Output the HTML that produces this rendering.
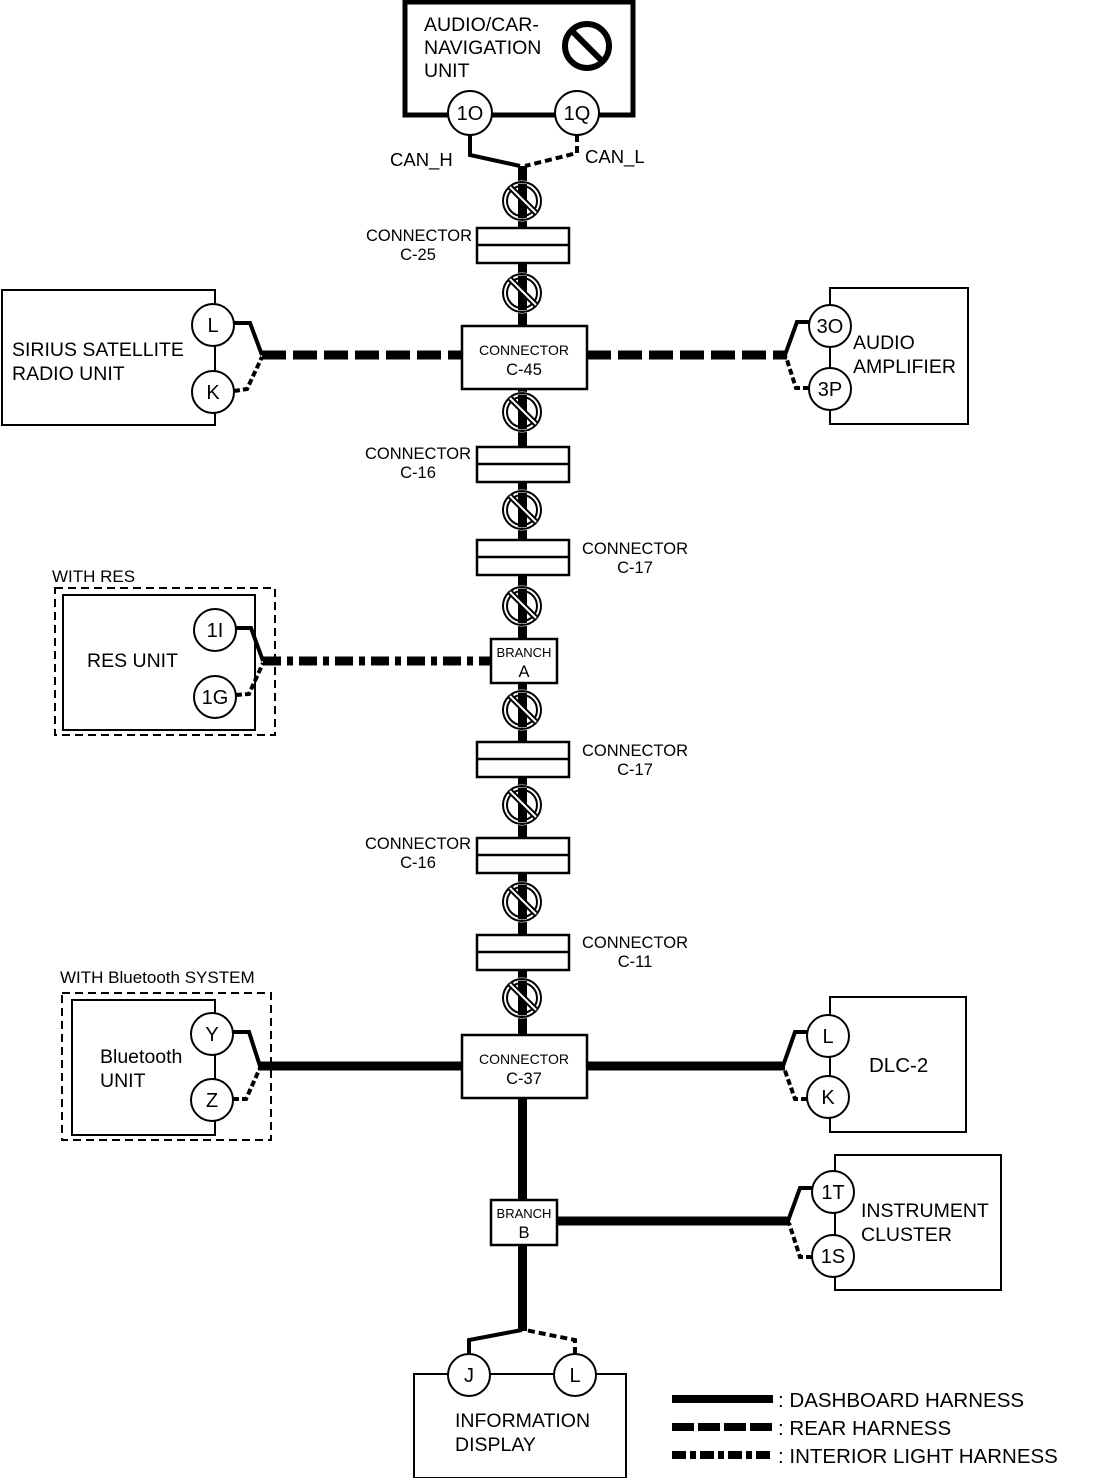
<!DOCTYPE html>
<html><head><meta charset="utf-8"><style>
html,body{margin:0;padding:0;background:#fff}
svg{display:block}
text{font-family:"Liberation Sans",sans-serif;fill:#000}
</style></head><body>
<svg width="1093" height="1478" viewBox="0 0 1093 1478" xmlns="http://www.w3.org/2000/svg">
<defs>
<g id="tw">
<circle cx="0" cy="0" r="19" fill="none" stroke="#fff" stroke-width="3"/>
<circle cx="0" cy="0" r="19" fill="none" stroke="#000" stroke-width="2"/>
<circle cx="0" cy="0" r="15" fill="none" stroke="#000" stroke-width="2"/>
<path d="M-12,-14 L14,12" stroke="#000" stroke-width="6"/>
<path d="M-12,-14 L14,12" stroke="#fff" stroke-width="2"/>
</g>
</defs>
<!-- trunk -->
<rect x="518" y="166" width="9" height="1165" fill="#000"/>
<!-- top unit -->
<rect x="405" y="2" width="228" height="113" fill="#fff" stroke="#000" stroke-width="5"/>
<text x="424" y="31" font-size="19.5">AUDIO/CAR-</text>
<text x="424" y="54" font-size="19.5">NAVIGATION</text>
<text x="424" y="77" font-size="19.5">UNIT</text>
<circle cx="587" cy="46" r="22" fill="none" stroke="#000" stroke-width="6"/>
<path d="M572,31 L602,61" stroke="#000" stroke-width="6"/>
<circle cx="470" cy="113" r="22" fill="#fff" stroke="#000" stroke-width="2"/>
<circle cx="577" cy="113" r="22" fill="#fff" stroke="#000" stroke-width="2"/>
<text x="470" y="120" font-size="20" text-anchor="middle">1O</text>
<text x="577" y="120" font-size="20" text-anchor="middle">1Q</text>
<path d="M470,135 L470,155 L520,166" fill="none" stroke="#000" stroke-width="4"/>
<path d="M577,135 L577,153 L525,166" fill="none" stroke="#000" stroke-width="4" stroke-dasharray="7,4"/>
<text x="390" y="166" font-size="18.5">CAN_H</text>
<text x="585" y="163" font-size="18.5">CAN_L</text>
<!-- twists -->
<use href="#tw" x="522" y="201"/><use href="#tw" x="522" y="293"/><use href="#tw" x="522" y="412"/>
<use href="#tw" x="522" y="510"/><use href="#tw" x="522" y="606"/><use href="#tw" x="522" y="710"/>
<use href="#tw" x="522" y="805"/><use href="#tw" x="522" y="902"/><use href="#tw" x="522" y="998"/>
<!-- connectors -->
<g fill="#fff" stroke="#000" stroke-width="2.5">
<rect x="477" y="228" width="92" height="35"/><line x1="477" y1="245" x2="569" y2="245"/>
<rect x="477" y="447" width="92" height="35"/><line x1="477" y1="464" x2="569" y2="464"/>
<rect x="477" y="540" width="92" height="35"/><line x1="477" y1="557" x2="569" y2="557"/>
<rect x="477" y="742" width="92" height="35"/><line x1="477" y1="759" x2="569" y2="759"/>
<rect x="477" y="838" width="92" height="35"/><line x1="477" y1="855" x2="569" y2="855"/>
<rect x="477" y="935" width="92" height="35"/><line x1="477" y1="952" x2="569" y2="952"/>
<rect x="462" y="326" width="125" height="63"/>
<rect x="462" y="1035" width="125" height="63"/>
<rect x="491" y="639" width="66" height="44"/>
<rect x="491" y="1200" width="66" height="45"/>
</g>
<g font-size="16.5" text-anchor="middle">
<text x="419" y="241">CONNECTOR</text><text x="418" y="260">C-25</text>
<text x="418" y="459">CONNECTOR</text><text x="418" y="478">C-16</text>
<text x="635" y="554">CONNECTOR</text><text x="635" y="573">C-17</text>
<text x="635" y="756">CONNECTOR</text><text x="635" y="775">C-17</text>
<text x="418" y="849">CONNECTOR</text><text x="418" y="868">C-16</text>
<text x="635" y="948">CONNECTOR</text><text x="635" y="967">C-11</text>
<text x="524" y="355" font-size="14">CONNECTOR</text><text x="524" y="375">C-45</text>
<text x="524" y="1064" font-size="14">CONNECTOR</text><text x="524" y="1084">C-37</text>
<text x="524" y="657" font-size="13">BRANCH</text><text x="524" y="677">A</text>
<text x="524" y="1218" font-size="13">BRANCH</text><text x="524" y="1238">B</text>
</g>
<!-- Sirius -->
<rect x="2" y="290" width="213" height="135" fill="#fff" stroke="#000" stroke-width="2"/>
<text x="12" y="356" font-size="19.5">SIRIUS SATELLITE</text>
<text x="12" y="380" font-size="19.5">RADIO UNIT</text>
<circle cx="213" cy="325" r="21" fill="#fff" stroke="#000" stroke-width="2"/>
<circle cx="213" cy="392" r="21" fill="#fff" stroke="#000" stroke-width="2"/>
<text x="213" y="332" font-size="20" text-anchor="middle">L</text>
<text x="213" y="399" font-size="20" text-anchor="middle">K</text>
<path d="M234,323 L250,323 L262,355" fill="none" stroke="#000" stroke-width="4"/>
<path d="M234,391 L247,389 L262,357" fill="none" stroke="#000" stroke-width="4" stroke-dasharray="6,3"/>
<path d="M262,355 L462,355" stroke="#000" stroke-width="9" stroke-dasharray="24,7"/>
<!-- Audio amp -->
<rect x="830" y="288" width="138" height="136" fill="#fff" stroke="#000" stroke-width="2"/>
<text x="853" y="349" font-size="19.5">AUDIO</text>
<text x="853" y="373" font-size="19.5">AMPLIFIER</text>
<circle cx="830" cy="326" r="21" fill="#fff" stroke="#000" stroke-width="2"/>
<circle cx="830" cy="389" r="21" fill="#fff" stroke="#000" stroke-width="2"/>
<text x="830" y="333" font-size="20" text-anchor="middle">3O</text>
<text x="830" y="396" font-size="20" text-anchor="middle">3P</text>
<path d="M809,322 L797,322 L785,355" fill="none" stroke="#000" stroke-width="4"/>
<path d="M809,388 L796,388 L786,357" fill="none" stroke="#000" stroke-width="4" stroke-dasharray="6,3"/>
<path d="M587,355 L787,355" stroke="#000" stroke-width="9" stroke-dasharray="24,7"/>
<!-- RES -->
<text x="52" y="582" font-size="17">WITH RES</text>
<rect x="55" y="588" width="220" height="147" fill="none" stroke="#000" stroke-width="2" stroke-dasharray="8,5"/>
<rect x="63" y="595" width="192" height="135" fill="#fff" stroke="#000" stroke-width="2"/>
<text x="87" y="667" font-size="19.5">RES UNIT</text>
<circle cx="215" cy="630" r="21" fill="#fff" stroke="#000" stroke-width="2"/>
<circle cx="215" cy="697" r="21" fill="#fff" stroke="#000" stroke-width="2"/>
<text x="215" y="637" font-size="20" text-anchor="middle">1I</text>
<text x="215" y="704" font-size="20" text-anchor="middle">1G</text>
<path d="M236,628 L251,628 L263,661" fill="none" stroke="#000" stroke-width="4"/>
<path d="M236,695 L249,694 L263,663" fill="none" stroke="#000" stroke-width="4" stroke-dasharray="6,3"/>
<path d="M263,661 L491,661" stroke="#000" stroke-width="9" stroke-dasharray="18,6,6,6"/>
<!-- Bluetooth -->
<text x="60" y="983" font-size="17">WITH Bluetooth SYSTEM</text>
<rect x="62" y="993" width="209" height="147" fill="none" stroke="#000" stroke-width="2" stroke-dasharray="8,5"/>
<rect x="72" y="1000" width="143" height="135" fill="#fff" stroke="#000" stroke-width="2"/>
<text x="100" y="1063" font-size="19.5">Bluetooth</text>
<text x="100" y="1087" font-size="19.5">UNIT</text>
<circle cx="212" cy="1034" r="21" fill="#fff" stroke="#000" stroke-width="2"/>
<circle cx="212" cy="1100" r="21" fill="#fff" stroke="#000" stroke-width="2"/>
<text x="212" y="1041" font-size="20" text-anchor="middle">Y</text>
<text x="212" y="1107" font-size="20" text-anchor="middle">Z</text>
<path d="M233,1032 L249,1032 L260,1066" fill="none" stroke="#000" stroke-width="4"/>
<path d="M233,1099 L246,1099 L260,1068" fill="none" stroke="#000" stroke-width="4" stroke-dasharray="6,3"/>
<line x1="258" y1="1066" x2="462" y2="1066" stroke="#000" stroke-width="9"/>
<!-- DLC -->
<rect x="830" y="997" width="136" height="135" fill="#fff" stroke="#000" stroke-width="2"/>
<text x="869" y="1072" font-size="20.5">DLC-2</text>
<circle cx="828" cy="1036" r="21" fill="#fff" stroke="#000" stroke-width="2"/>
<circle cx="828" cy="1097" r="21" fill="#fff" stroke="#000" stroke-width="2"/>
<text x="828" y="1043" font-size="20" text-anchor="middle">L</text>
<text x="828" y="1104" font-size="20" text-anchor="middle">K</text>
<path d="M807,1032 L795,1032 L783,1066" fill="none" stroke="#000" stroke-width="4"/>
<path d="M807,1099 L795,1099 L784,1068" fill="none" stroke="#000" stroke-width="4" stroke-dasharray="6,3"/>
<line x1="587" y1="1066" x2="785" y2="1066" stroke="#000" stroke-width="9"/>
<!-- Instrument cluster -->
<rect x="835" y="1155" width="166" height="135" fill="#fff" stroke="#000" stroke-width="2"/>
<text x="861" y="1217" font-size="19.5">INSTRUMENT</text>
<text x="861" y="1241" font-size="19.5">CLUSTER</text>
<circle cx="833" cy="1192" r="21" fill="#fff" stroke="#000" stroke-width="2"/>
<circle cx="833" cy="1256" r="21" fill="#fff" stroke="#000" stroke-width="2"/>
<text x="833" y="1199" font-size="20" text-anchor="middle">1T</text>
<text x="833" y="1263" font-size="20" text-anchor="middle">1S</text>
<path d="M812,1188 L800,1188 L788,1221" fill="none" stroke="#000" stroke-width="4"/>
<path d="M812,1257 L800,1257 L789,1223" fill="none" stroke="#000" stroke-width="4" stroke-dasharray="6,3"/>
<line x1="557" y1="1221" x2="790" y2="1221" stroke="#000" stroke-width="9"/>
<!-- Info display -->
<path d="M469,1354 L469,1340 L522,1330" fill="none" stroke="#000" stroke-width="4"/>
<path d="M575,1354 L575,1340 L525,1330" fill="none" stroke="#000" stroke-width="4" stroke-dasharray="7,4"/>
<rect x="414" y="1374" width="212" height="104" fill="#fff" stroke="#000" stroke-width="2"/>
<circle cx="469" cy="1375" r="21" fill="#fff" stroke="#000" stroke-width="2"/>
<circle cx="575" cy="1375" r="21" fill="#fff" stroke="#000" stroke-width="2"/>
<text x="469" y="1382" font-size="20" text-anchor="middle">J</text>
<text x="575" y="1382" font-size="20" text-anchor="middle">L</text>
<text x="455" y="1427" font-size="19.5">INFORMATION</text>
<text x="455" y="1451" font-size="19.5">DISPLAY</text>
<!-- legend -->
<line x1="672" y1="1399" x2="773" y2="1399" stroke="#000" stroke-width="8"/>
<line x1="672" y1="1427" x2="773" y2="1427" stroke="#000" stroke-width="8" stroke-dasharray="22,4"/>
<line x1="672" y1="1455" x2="773" y2="1455" stroke="#000" stroke-width="8" stroke-dasharray="14,4,6,4"/>
<text x="778" y="1407" font-size="20.5">: DASHBOARD HARNESS</text>
<text x="778" y="1435" font-size="20.5">: REAR HARNESS</text>
<text x="778" y="1463" font-size="20.5">: INTERIOR LIGHT HARNESS</text>
</svg>
</body></html>
